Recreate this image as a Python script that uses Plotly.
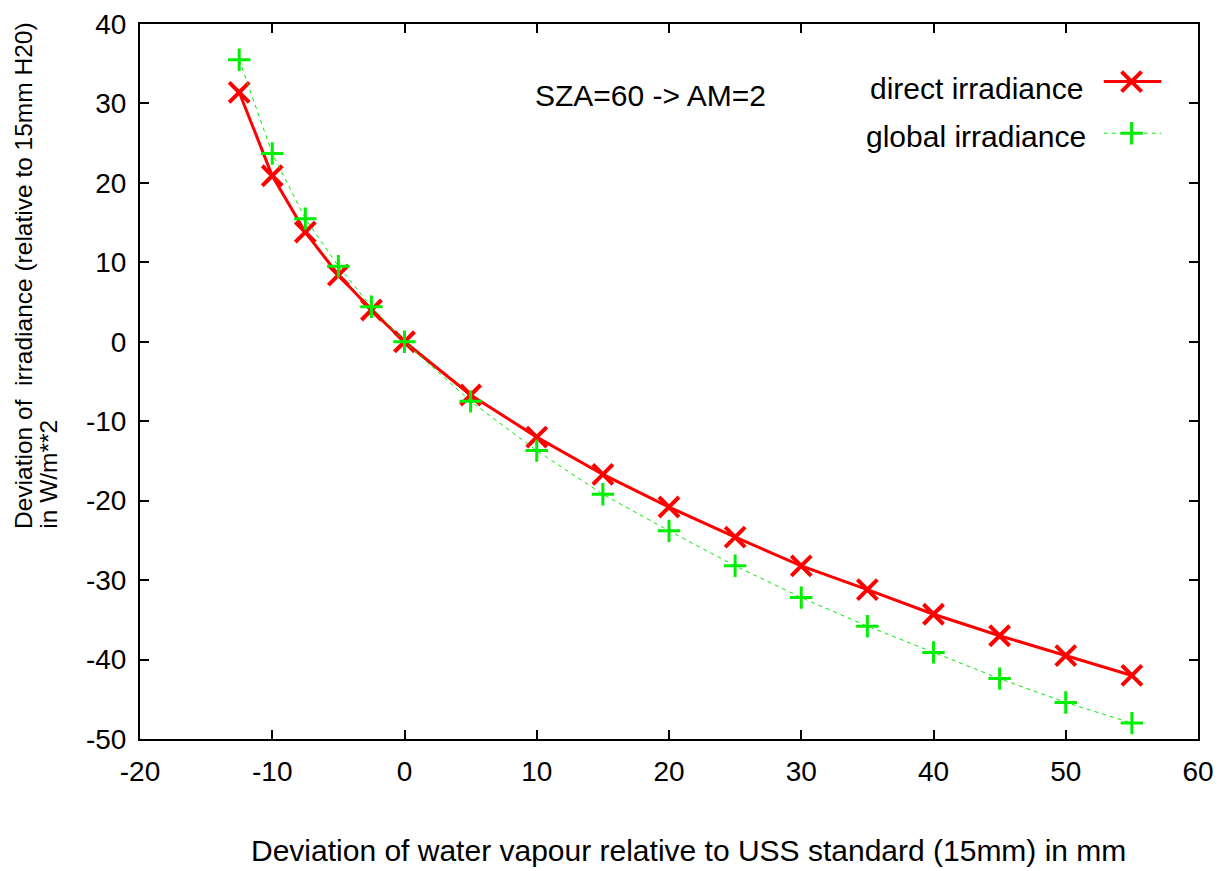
import plotly.graph_objects as go

# Data
water_dev = [-12.5, -10, -7.5, -5, -2.5, 0, 5, 10, 15, 20, 25, 30, 35, 40, 45, 50, 55]
direct_irr = [31.4, 20.9, 13.8, 8.4, 4.0, 0.0, -6.7, -12.0, -16.7, -20.8, -24.6, -28.2,
              -31.2, -34.3, -37.0, -39.5, -42.0]
global_irr = [35.5, 23.7, 15.5, 9.5, 4.4, 0.0, -7.5, -13.7, -19.2, -23.8, -28.2, -32.2,
              -35.8, -39.1, -42.4, -45.4, -48.0]

x_ticks = [-20, -10, 0, 10, 20, 30, 40, 50, 60]
y_ticks = [-50, -40, -30, -20, -10, 0, 10, 20, 30, 40]

RED = "#ff0000"
GREEN = "#00ee00"
FONT = "Liberation Sans, Arial, sans-serif"

W, H = 1223, 871
# plot-area geometry (reference pixels) used for placing texts/key relative to the plot
PX_L, PX_R, PX_T, PX_B = 138, 1205, 20, 740
PW, PH = PX_R - PX_L, PX_B - PX_T
# margins of the figure
M_L, M_R, M_T, M_B = 140, 9, 13, 132


def px(xp):
    return (xp - PX_L) / PW


def py(yp):
    return (PX_B - yp) / PH


fig = go.Figure()

fig.add_trace(go.Scatter(
    x=water_dev, y=direct_irr, mode="lines+markers", name="direct irradiance",
    line=dict(color=RED, width=3),
    marker=dict(symbol="x-thin-open", size=20, color=RED, line=dict(color=RED, width=4)),
    showlegend=False))

fig.add_trace(go.Scatter(
    x=water_dev, y=global_irr, mode="lines+markers", name="global irradiance",
    line=dict(color=GREEN, width=1, dash="4px,4px"),
    marker=dict(symbol="cross-thin-open", size=16, color=GREEN, line=dict(color=GREEN, width=3)),
    showlegend=False))

# Manual gnuplot-style key (text then sample), on an overlay axis in [0,1]
key_x0, key_x1, key_xm = px(1110), px(1168), px(1138)
key_line_y = [py(78), py(130)]
key_text_y = [py(85), py(133)]
fig.add_trace(go.Scatter(x=[key_x0, key_x1], y=[key_line_y[0]] * 2, mode="lines",
                         line=dict(color=RED, width=3), xaxis="x2", yaxis="y2",
                         showlegend=False, hoverinfo="skip"))
fig.add_trace(go.Scatter(x=[key_xm], y=[key_line_y[0]], mode="markers",
                         marker=dict(symbol="x-thin-open", size=20, color=RED,
                                     line=dict(color=RED, width=4)),
                         xaxis="x2", yaxis="y2", showlegend=False, hoverinfo="skip"))
fig.add_trace(go.Scatter(x=[key_x0, key_x1], y=[key_line_y[1]] * 2, mode="lines",
                         line=dict(color=GREEN, width=1, dash="4px,4px"), xaxis="x2", yaxis="y2",
                         showlegend=False, hoverinfo="skip"))
fig.add_trace(go.Scatter(x=[key_xm], y=[key_line_y[1]], mode="markers",
                         marker=dict(symbol="cross-thin-open", size=16, color=GREEN,
                                     line=dict(color=GREEN, width=3)),
                         xaxis="x2", yaxis="y2", showlegend=False, hoverinfo="skip"))

axis_common = dict(showgrid=False, zeroline=False, showline=True, linecolor="black",
                   linewidth=2, mirror="ticks", ticks="inside", ticklen=9, tickwidth=2,
                   tickcolor="black", ticklabeloverflow="allow",
                   tickfont=dict(family=FONT, size=28, color="black"))

fig.update_layout(
    width=W, height=H,
    margin=dict(l=M_L, r=M_R, t=M_T, b=M_B, pad=0),
    paper_bgcolor="white", plot_bgcolor="white",
    font=dict(family=FONT, color="black"),
    xaxis=dict(range=[-20, 60], tickvals=x_ticks, ticktext=[str(v) for v in x_ticks],
               ticklabelstandoff=6, **axis_common),
    yaxis=dict(range=[-50, 40], tickvals=y_ticks, ticktext=[str(v) for v in y_ticks],
               ticklabelstandoff=6, **axis_common),
    xaxis2=dict(range=[0, 1], overlaying="x", visible=False, fixedrange=True),
    yaxis2=dict(range=[0, 1], overlaying="y", visible=False, fixedrange=True),
    annotations=[
        dict(text="Deviation of water vapour relative to USS standard (15mm) in mm",
             xref="paper", yref="paper", x=px(691), y=py(852),
             xanchor="center", yanchor="middle", showarrow=False,
             font=dict(family=FONT, size=30)),
        dict(text="Deviation of\u00a0 irradiance (relative to 15mm H20)",
             xref="paper", yref="paper", x=px(21), y=py(530),
             xanchor="center", yanchor="bottom", textangle=-90,
             showarrow=False, font=dict(family=FONT, size=24.5)),
        dict(text="in W/m**2",
             xref="paper", yref="paper", x=px(46), y=py(530),
             xanchor="center", yanchor="bottom", textangle=-90,
             showarrow=False, font=dict(family=FONT, size=24.5)),
        dict(text="SZA=60 -> AM=2", xref="paper", yref="paper",
             x=px(653), y=py(92), xanchor="center", yanchor="middle",
             showarrow=False, font=dict(family=FONT, size=30)),
        dict(text="direct irradiance", xref="paper", yref="paper",
             x=px(1091), y=key_text_y[0], xanchor="right", yanchor="middle",
             showarrow=False, font=dict(family=FONT, size=30)),
        dict(text="global irradiance", xref="paper", yref="paper",
             x=px(1094), y=key_text_y[1], xanchor="right", yanchor="middle",
             showarrow=False, font=dict(family=FONT, size=30)),
    ],
)

fig.write_html(
    "out.html",
    config={"displayModeBar": False},
    post_script=(
        "document.documentElement.style.margin='0';"
        "document.documentElement.style.padding='0';"
        "document.documentElement.style.overflow='hidden';"
        "document.body.style.margin='0';"
        "document.body.style.padding='0';"
        "document.body.style.overflow='hidden';"
        "var gd=document.getElementsByClassName('plotly-graph-div')[0];"
        "gd.style.position='absolute';gd.style.left='0px';gd.style.top='0px';"
    ),
)
